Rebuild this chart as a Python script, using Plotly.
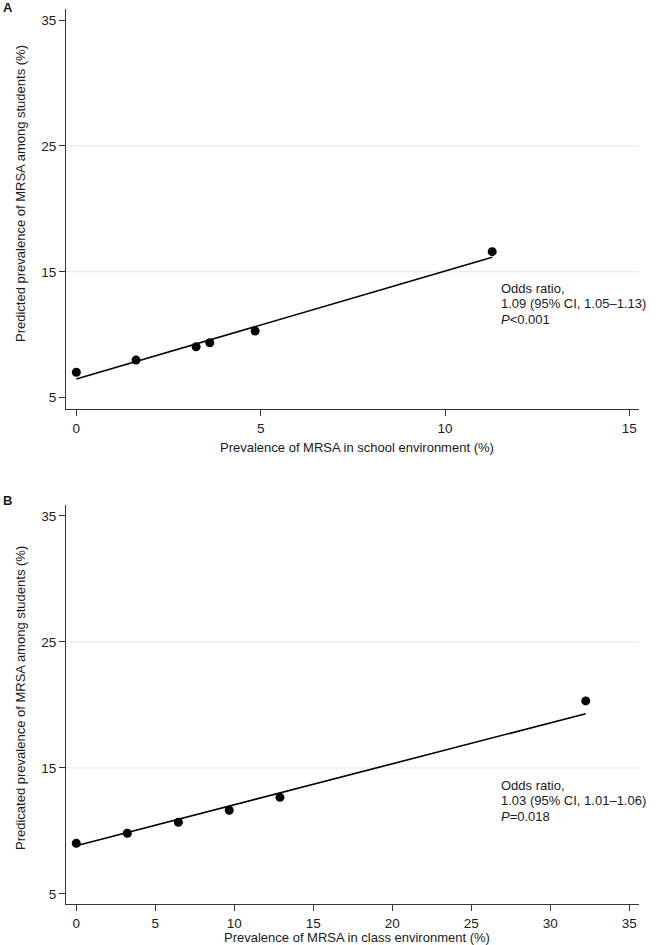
import plotly.graph_objects as go

# Panel A data: school environment
school_x = [0.0, 1.62, 3.25, 3.62, 4.85, 11.28]
school_y = [7.02, 7.99, 9.05, 9.37, 10.30, 16.60]
school_fit_x = [0.0, 11.28]
school_fit_y = [6.49, 16.15]

# Panel B data: class environment
class_x = [0.0, 3.23, 6.46, 9.68, 12.89, 32.24]
class_y = [9.02, 9.82, 10.69, 11.64, 12.67, 20.32]
class_fit_x = [0.0, 32.24]
class_fit_y = [8.83, 19.31]

y_ticks = [5, 15, 25, 35]
grid_vals = [15, 25]
xticks_a = [0, 5, 10, 15]
xticks_b = [0, 5, 10, 15, 20, 25, 30, 35]

W, H = 658, 945
FONT = "Liberation Sans, Arial, sans-serif"
TXT = "#1a1a1a"


def px(xp):
    return xp / W


def py(yp):
    return 1 - yp / H


fig = go.Figure()

# Panel A
fig.add_trace(go.Scatter(x=school_fit_x, y=school_fit_y, mode="lines",
                         line=dict(color="black", width=1.6),
                         xaxis="x", yaxis="y", showlegend=False))
fig.add_trace(go.Scatter(x=school_x, y=school_y, mode="markers",
                         marker=dict(color="black", size=9),
                         xaxis="x", yaxis="y", showlegend=False))
# Panel B
fig.add_trace(go.Scatter(x=class_fit_x, y=class_fit_y, mode="lines",
                         line=dict(color="black", width=1.6),
                         xaxis="x2", yaxis="y2", showlegend=False))
fig.add_trace(go.Scatter(x=class_x, y=class_y, mode="markers",
                         marker=dict(color="black", size=9),
                         xaxis="x2", yaxis="y2", showlegend=False))

axis_common = dict(showline=True, linecolor="#333333", linewidth=1,
                   ticks="outside", ticklen=6, tickcolor="#333333",
                   showgrid=False, zeroline=False,
                   tickfont=dict(family=FONT, size=13.5, color=TXT))

x_dom = [px(66), px(639.3)]
fig.update_layout(
    width=W, height=H,
    margin=dict(l=0, r=0, t=0, b=0),
    paper_bgcolor="white", plot_bgcolor="white",
    xaxis=dict(domain=x_dom, range=[-0.28, 15.27], tickvals=xticks_a,
               anchor="y", **axis_common),
    yaxis=dict(domain=[py(409.3), py(9.3)], range=[4.08, 35.85],
               tickvals=y_ticks, anchor="x", **axis_common),
    xaxis2=dict(domain=x_dom, range=[-0.65, 35.63], tickvals=xticks_b,
                anchor="y2", **axis_common),
    yaxis2=dict(domain=[py(904.3), py(505)], range=[4.18, 35.87],
                tickvals=y_ticks, anchor="x2", **axis_common),
)

# gridlines
for xr, yr in (("x", "y"), ("x2", "y2")):
    for g in grid_vals:
        fig.add_shape(type="line", xref=f"{xr} domain", yref=yr,
                      x0=0, x1=1, y0=g, y1=g,
                      line=dict(color="#dfe8ea", width=1), layer="below")

ann = []


def text(x, y, s, size=13, angle=0, xanchor="center", bold=False):
    ann.append(dict(x=px(x), y=py(y), xref="paper", yref="paper",
                    text=f"<b>{s}</b>" if bold else s, showarrow=False,
                    xanchor=xanchor, yanchor="middle", textangle=angle,
                    font=dict(family=FONT, size=size, color=TXT)))


text(1, 7, "A", size=13, xanchor="left", bold=True)
text(1, 500, "B", size=13, xanchor="left", bold=True)

text(20, 194, "Predicted prevalence of MRSA among students (%)", angle=-90)
text(20, 698, "Predicated prevalence of MRSA among students (%)", angle=-90)

text(357, 447.7, "Prevalence of MRSA in school environment (%)")
text(357, 937.5, "Prevalence of MRSA in class environment (%)")

# stats annotations
for y0, lines in ((288.3, ["Odds ratio,", "1.09 (95% CI, 1.05–1.13)", "<i>P</i>&lt;0.001"]),
                  (785.0, ["Odds ratio,", "1.03 (95% CI, 1.01–1.06)", "<i>P</i>=0.018"])):
    for i, s in enumerate(lines):
        text(499, y0 + i * 15.5, s, xanchor="left")

fig.update_layout(annotations=ann)
fig.write_html(
    "out.html",
    config={"displayModeBar": False},
    post_script="document.body.style.margin='0';document.body.style.overflow='hidden';",
)
